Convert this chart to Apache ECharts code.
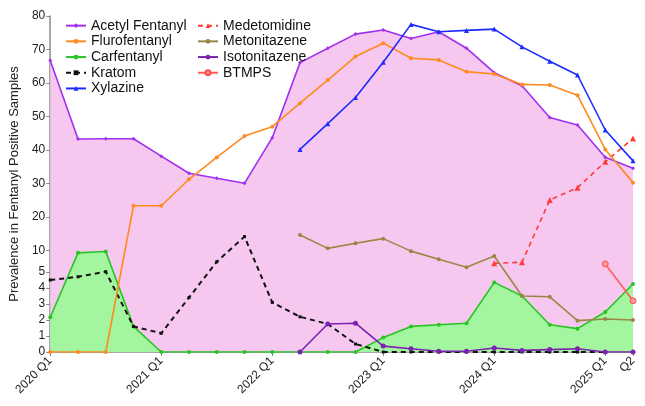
<!DOCTYPE html>
<html><head><meta charset="utf-8">
<script src="https://cdn.jsdelivr.net/npm/echarts@6/dist/echarts.min.js"></script>
<style>html,body{margin:0;padding:0;background:#fff}#c{width:645px;height:406px}</style>
</head><body><div id="c"></div>
<script>
// ---- data ----
const quarters = ["2020 Q1","2020 Q2","2020 Q3","2020 Q4","2021 Q1","2021 Q2","2021 Q3","2021 Q4",
  "2022 Q1","2022 Q2","2022 Q3","2022 Q4","2023 Q1","2023 Q2","2023 Q3","2023 Q4",
  "2024 Q1","2024 Q2","2024 Q3","2024 Q4","2025 Q1","2025 Q2"];
const acetylFentanyl = [66.7,43.3,43.4,43.4,38.2,33.1,31.6,30.1,43.7,66.1,70.4,74.6,75.8,73.3,75.3,70.4,63.1,59.2,49.7,47.5,37.9,34.6];
const flurofentanyl = [0,0,0,23.4,23.4,31.3,37.8,44.2,47.0,54.0,60.9,67.9,71.9,67.4,66.9,63.4,62.7,59.6,59.4,56.4,40.2,30.3];
const carfentanyl = [2.17,9.5,9.8,1.6,0,0,0,0,0,0,0,0,0.9,1.6,1.7,1.8,4.35,3.5,1.7,1.46,2.5,4.25];
const kratom = [4.5,4.7,5.07,1.6,1.17,3.4,7.4,14.2,3.1,2.2,1.75,0.5,0,0,0,0,0,0,0,0,0,null];
const xylazine = [null,null,null,null,null,null,null,null,null,40.2,47.9,55.7,66.2,77.5,75.3,75.7,76.1,70.8,66.5,62.4,46.0,36.8];
const medetomidine = [null,null,null,null,null,null,null,null,null,null,null,null,null,null,null,null,7.04,7.3,25.1,28.8,36.5,43.5];
const metonitazene = [null,null,null,null,null,null,null,null,null,14.7,10.7,12.2,13.6,9.9,8.0,6.1,8.75,3.5,3.45,1.96,2.06,2.0];
const isotonitazene = [null,null,null,null,null,null,null,null,null,0,1.75,1.8,0.37,0.2,0.05,0.05,0.25,0.1,0.15,0.2,0,0];
const btmps = [null,null,null,null,null,null,null,null,null,null,null,null,null,null,null,null,null,null,null,null,6.9,3.2];
const yTickValues = [0,1,2,3,4,5,10,20,30,40,50,60,70,80];

// ---- segmented y scale (0-5 stretched, 5-10 compressed, 10-80 regular) ----
const segV = [0,5,10,80];
const segT = [0,80,101.3,336];
function T(v){
  if (v === null || v === undefined) return null;
  for (let i=1;i<segV.length;i++){
    if (v <= segV[i] || i === segV.length-1){
      return segT[i-1] + (v-segV[i-1])*(segT[i]-segT[i-1])/(segV[i]-segV[i-1]);
    }
  }
}
function Tinv(t){
  for (let i=1;i<segT.length;i++){
    if (t <= segT[i]+1e-6 || i === segT.length-1){
      return segV[i-1] + (t-segT[i-1])*(segV[i]-segV[i-1])/(segT[i]-segT[i-1]);
    }
  }
}
const tr = a => a.map(T);

const FONT = "Liberation Sans, Arial, Helvetica, sans-serif";
const lastIdx = quarters.length-1;
const showTick = (i,v) => /Q1$/.test(v) || i === lastIdx;

function lineSeries(name, data, color, opt){
  return Object.assign({
    name, type:'line', data: tr(data), symbol:'circle', symbolSize:4, connectNulls:false,
    itemStyle:{color}, lineStyle:{color, width:1.6}, z:3
  }, opt||{});
}

const series = [
  lineSeries('Acetyl Fentanyl', acetylFentanyl, '#a12ff0', {areaStyle:{color:'#f6c8ef', opacity:1}, z:1, symbol:'diamond', symbolSize:4}),
  lineSeries('Flurofentanyl', flurofentanyl, '#ff8a1e', {z:4}),
  lineSeries('Carfentanyl', carfentanyl, '#27c424', {areaStyle:{color:'#a3f59f', opacity:1}, z:2}),
  lineSeries('Kratom', kratom, '#111111', {lineStyle:{color:'#111', width:2, type:[5,4]}, symbol:'rect', symbolSize:3}),
  lineSeries('Xylazine', xylazine, '#1c2cff', {symbol:'triangle', symbolSize:5, z:5}),
  lineSeries('Medetomidine', medetomidine, '#ff3b3b', {lineStyle:{color:'#ff3b3b', width:1.6, type:[5,4]}, symbol:'triangle', symbolSize:6}),
  lineSeries('Metonitazene', metonitazene, '#9b8646'),
  lineSeries('Isotonitazene', isotonitazene, '#7b22b0', {symbolSize:5}),
  lineSeries('BTMPS', btmps, '#ff5c5c', {symbol:'circle', symbolSize:6, itemStyle:{color:'#ff9a9a', borderColor:'#ff4d4d', borderWidth:1}})
];

const legendCommon = {
  orient:'vertical', itemGap:0, itemWidth:20, itemHeight:6,
  textStyle:{fontFamily:FONT, fontSize:14, color:'#111', lineHeight:15.7, padding:0},
  selectedMode:false
};

const chart = echarts.init(document.getElementById('c'), null, {renderer:'canvas'});
chart.setOption({
  animation:false,
  backgroundColor:'#fff',
  grid:{left:48, right:12, top:16, bottom:54, containLabel:false},
  legend:[
    Object.assign({}, legendCommon, {left:60, top:12.8, data:['Acetyl Fentanyl','Flurofentanyl','Carfentanyl','Kratom','Xylazine']}),
    Object.assign({}, legendCommon, {left:192, top:12.8, data:['Medetomidine','Metonitazene','Isotonitazene','BTMPS']})
  ],
  xAxis:{
    type:'category', data:quarters, boundaryGap:false,
    axisLine:{lineStyle:{color:'#8a8a8a', width:1.5}},
    axisTick:{show:true, interval:showTick, length:4, inside:false, lineStyle:{color:'#8a8a8a'}},
    axisLabel:{interval:showTick, rotate:45, fontFamily:FONT, fontSize:12, color:'#222', margin:7,
      formatter:(v,i)=> (i===lastIdx ? 'Q2' : v)},
    splitLine:{show:false}
  },
  yAxis:{
    type:'value', min:0, max:T(80),
    name:'Prevalence in Fentanyl Positive Samples', nameLocation:'middle', nameGap:29,
    nameTextStyle:{fontFamily:FONT, fontSize:13, color:'#222'},
    axisLine:{show:true, lineStyle:{color:'#8a8a8a', width:1.5}},
    axisTick:{show:true, length:4, customValues: yTickValues.map(T), lineStyle:{color:'#8a8a8a'}},
    axisLabel:{customValues: yTickValues.map(T), fontFamily:FONT, fontSize:12, color:'#222', margin:5,
      formatter:(t)=> String(Math.round(Tinv(t)))},
    splitLine:{show:false}
  },
  series
});
</script></body></html>
